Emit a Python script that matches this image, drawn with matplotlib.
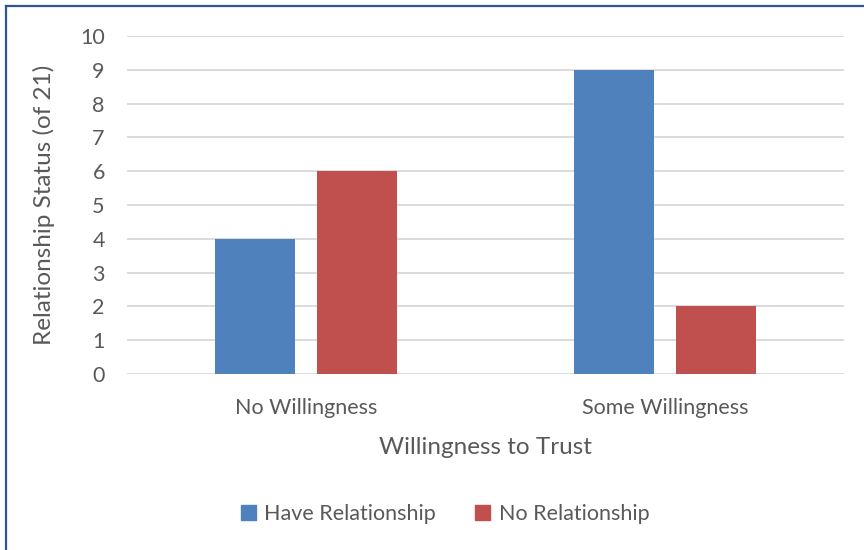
import numpy as np
import matplotlib
matplotlib.use('Agg')
import matplotlib.pyplot as plt
from matplotlib.lines import Line2D
from matplotlib.patches import Patch

categories = ['No Willingness', 'Some Willingness']
have_rel = [4, 9]
no_rel = [6, 2]
series_names = ['Have Relationship', 'No Relationship']
yticks = list(range(0, 11))

BLUE = '#4F81BD'
RED = '#C0504D'
TXT = '#595959'
plt.rcParams['font.family'] = ['Lato', 'DejaVu Sans']

fig = plt.figure(figsize=(8.64, 5.5), dpi=100)
ax = fig.add_axes([127/864, 1-374/550, 717/864, 338/550])

x = np.arange(len(categories))
w = 0.223
ax.bar(x - 0.142, have_rel, w, color=BLUE, zorder=3)
ax.bar(x + 0.142, no_rel, w, color=RED, zorder=3)

ax.set_xlim(-0.5, 1.5)
ax.set_ylim(0, 10)
ax.set_yticks(yticks)
ax.set_xticks(x)
ax.set_xticklabels(categories)
ax.yaxis.grid(True, color='#D9D9D9', lw=1.3, zorder=0)
for s in ax.spines.values():
    s.set_visible(False)
ax.tick_params(length=0, labelsize=15.5, colors=TXT)
ax.tick_params(axis='y', pad=16)
ax.tick_params(axis='x', pad=17)
ax.set_xlabel('Willingness to Trust', fontsize=17.5, color=TXT, labelpad=14)
ax.set_ylabel('Relationship Status (of 21)', fontsize=17.5, color=TXT, labelpad=18)

handles = [Patch(color=BLUE), Patch(color=RED)]
fig.legend(handles, series_names, loc='center', bbox_to_anchor=(445/864, 1-514/550),
           ncol=2, frameon=False, fontsize=15.5, labelcolor=TXT, handlelength=0.7,
           handleheight=0.7, columnspacing=1.8, handletextpad=0.4)

# outer frame (left and top edges only)
fig.add_artist(Line2D([6/864, 6/864], [0, 1-6/550], color='#2F5597', lw=1.6))
fig.add_artist(Line2D([6/864, 1], [1-6/550, 1-6/550], color='#2F5597', lw=1.6))

fig.savefig('out.png', dpi=100)
